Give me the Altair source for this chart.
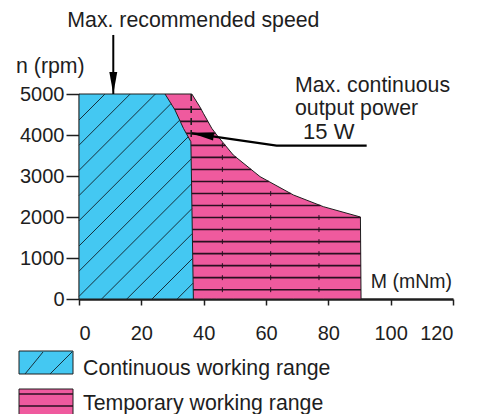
import altair as alt
import pandas as pd
import numpy as np

# ---------------- data ----------------
x_ticks = [0, 20, 40, 60, 80, 100, 120]
y_ticks = [0, 1000, 2000, 3000, 4000, 5000]

# continuous working range: upper/right boundary (M in mNm, n in rpm)
cont_M = [0.0, 27.6, 30.8, 33.5, 35.9, 36.7]
cont_n = [5000, 5000, 4610, 4163, 3837, 0]

# temporary working range: upper/right boundary
temp_M = [27.6, 36.2, 38.8, 39.9, 42.6, 44.2, 49.5, 58.1, 68.8, 78.4, 90.3, 90.5]
temp_n = [5000, 5000, 4683, 4529, 4163, 4000, 3512, 2984, 2537, 2252, 2000, 0]

# max. continuous torque (dashed)
dash_M = [36.0, 36.0]
dash_n = [5000, 3837]

# annotation arrows
arrow1_M = [11.0, 11.0]
arrow1_n = [6440, 5000]
arrow2_M = [92.3, 63.4, 36.2]
arrow2_n = [3739, 3739, 4041]

# annotation texts
ann_text = ["Max. recommended speed", "n (rpm)", "Max. continuous", "output power", "15 W", "M (mNm)"]
ann_M = [36.7, -20.2, 69.3, 69.3, 71.9, 119.7]
ann_n = [6641, 5512, 5056, 4488, 3895, 261]

legend_labels = ["Continuous working range", "Temporary working range"]

# ---------------- layout / style ----------------
W, H = 374, 205
XMAX, YMAX = 120, 5000
PXM, PXN = W / XMAX, H / YMAX
FONT = "Liberation Sans"
BLUE = "#44C8F2"
PINK = "#EF5A9E"
DARK = "#1e1e1e"
FS = 21.3

xs = alt.Scale(domain=[0, XMAX], nice=False, zero=False)
ys = alt.Scale(domain=[0, YMAX], nice=False, zero=False)


def to_px(M, n):
    return M * PXM, (YMAX - n) * PXN


def to_data(x, y):
    return x / PXM, YMAX - y / PXN


# hatch lines for the continuous region (45 deg in pixel space)
poly = [to_px(0, 0)] + [to_px(m, n) for m, n in zip(cont_M, cont_n)]
hatch = []
for k in range(-1, 15):
    c = 26 + 25.2 * k
    pts = []
    for i in range(len(poly)):
        (x1, y1), (x2, y2) = poly[i], poly[(i + 1) % len(poly)]
        f1, f2 = x1 + y1 - c, x2 + y2 - c
        if f1 == f2:
            continue
        t = f1 / (f1 - f2)
        if 0 <= t < 1:
            pts.append((x1 + t * (x2 - x1), y1 + t * (y2 - y1)))
    pts.sort()
    for j in range(0, len(pts) - 1, 2):
        a = to_data(*pts[j])
        b = to_data(*pts[j + 1])
        hatch.append({"M": a[0], "n": a[1], "M2": b[0], "n2": b[1]})
hatch_df = pd.DataFrame(hatch)

# horizontal hatch for temporary region
levels = [227 + 293.3 * k for k in range(16)]
rM = np.interp(levels, temp_n[::-1], temp_M[::-1])
hl_df = pd.DataFrame({"M": [27.0] * len(levels), "M2": rM, "n": levels})
tick_pos = [46.0, 61.5, 77.0]
tk = [{"M": t, "n": lv - 60, "n2": lv + 60} for lv, r in zip(levels, rM) for t in tick_pos if t < r - 0.5]
tk_df = pd.DataFrame(tk)

cont_df = pd.DataFrame({"M": cont_M, "n": cont_n})
temp_df = pd.DataFrame({"M": temp_M, "n": temp_n})

xaxis = alt.Axis(values=x_ticks, tickSize=6, tickWidth=1.5, domainWidth=2.5,
                 labelPadding=18, grid=False, format="d")
yaxis = alt.Axis(values=y_ticks, tickSize=13, tickWidth=1.5, domainWidth=1.5,
                 labelPadding=2, grid=False, format="d")

temp_area = alt.Chart(temp_df).mark_area(color=PINK, stroke=DARK, strokeWidth=1, fillOpacity=1).encode(
    x=alt.X("M:Q", scale=xs, title=None, axis=xaxis),
    y=alt.Y("n:Q", scale=ys, title=None, axis=yaxis, stack=None),
    y2=alt.datum(0))
hlines = alt.Chart(hl_df).mark_rule(color="#2a1020", strokeWidth=1.6).encode(
    x=alt.X("M:Q", scale=xs), x2="M2", y=alt.Y("n:Q", scale=ys))
ticks = alt.Chart(tk_df).mark_rule(color="#2a1020", strokeWidth=1).encode(
    x=alt.X("M:Q", scale=xs), y=alt.Y("n:Q", scale=ys), y2="n2")
cont_area = alt.Chart(cont_df).mark_area(color=BLUE, stroke=DARK, strokeWidth=1, fillOpacity=1).encode(
    x=alt.X("M:Q", scale=xs), y=alt.Y("n:Q", scale=ys, stack=None), y2=alt.datum(0))
hatch_l = alt.Chart(hatch_df).mark_rule(color="#16303c", strokeWidth=1).encode(
    x=alt.X("M:Q", scale=xs), y=alt.Y("n:Q", scale=ys), x2="M2", y2="n2")
dash = alt.Chart(pd.DataFrame({"M": dash_M, "n": dash_n})).mark_line(
    color=DARK, strokeWidth=1.6, strokeDash=[7, 5]).encode(
    x=alt.X("M:Q", scale=xs), y=alt.Y("n:Q", scale=ys))

a1 = pd.DataFrame({"M": arrow1_M, "n": arrow1_n, "o": range(2)})
a2 = pd.DataFrame({"M": arrow2_M, "n": arrow2_n, "o": range(3)})
arr1 = alt.Chart(a1).mark_line(color="black", strokeWidth=2).encode(
    x=alt.X("M:Q", scale=xs), y=alt.Y("n:Q", scale=ys), order="o:Q")
arr2 = alt.Chart(a2).mark_line(color="black", strokeWidth=2.2).encode(
    x=alt.X("M:Q", scale=xs), y=alt.Y("n:Q", scale=ys), order="o:Q")
HEAD = "M0,1 L-0.36,-1 L0.36,-1 Z"
head1 = alt.Chart(a1.iloc[[1]]).mark_point(shape=HEAD, size=484, filled=True, color="black",
                                           opacity=1, strokeWidth=0, yOffset=-11).encode(
    x=alt.X("M:Q", scale=xs), y=alt.Y("n:Q", scale=ys))
head2 = alt.Chart(a2.iloc[[2]]).mark_point(shape=HEAD, size=484, filled=True, color="black",
                                           opacity=1, strokeWidth=0, angle=98.3,
                                           xOffset=10.9, yOffset=1.6).encode(
    x=alt.X("M:Q", scale=xs), y=alt.Y("n:Q", scale=ys))

ann = pd.DataFrame({"t": ann_text, "M": ann_M, "n": ann_n})
def txt(rows, align, size=FS):
    return alt.Chart(ann.iloc[rows]).mark_text(
        align=align, baseline="alphabetic", font=FONT, fontSize=size, color=DARK).encode(
        x=alt.X("M:Q", scale=xs), y=alt.Y("n:Q", scale=ys), text="t:N")
texts = [txt([0], "center"), txt([1, 2, 3], "left"), txt([4], "left", 22), txt([5], "right", 19.5)]

# legend (pixel layout below the plot)
sw = pd.DataFrame({"lab": legend_labels})
lg_blue = alt.Chart(sw.iloc[[0]]).mark_rect(color=BLUE, stroke=DARK, strokeWidth=1).encode(
    x=alt.value(-60), x2=alt.value(-6), y=alt.value(257), y2=alt.value(280))
lg_blue_h = [alt.Chart(sw.iloc[[0]]).mark_rule(color="#16303c", strokeWidth=1).encode(
    x=alt.value(a), y=alt.value(280), x2=alt.value(b), y2=alt.value(258)) for a, b in [(-54, -36), (-29, -7)]]
lg_pink = alt.Chart(sw.iloc[[1]]).mark_rect(color=PINK, stroke=DARK, strokeWidth=1).encode(
    x=alt.value(-60), x2=alt.value(-6), y=alt.value(295), y2=alt.value(324))
lg_pink_h = [alt.Chart(sw.iloc[[1]]).mark_rule(color="#2a1020", strokeWidth=1.6).encode(
    x=alt.value(-60), x2=alt.value(-6), y=alt.value(v)) for v in (300, 312)]
lg_text = [alt.Chart(sw.iloc[[i]]).mark_text(align="left", baseline="alphabetic", font=FONT,
                                              fontSize=FS, color=DARK).encode(
    x=alt.value(4), y=alt.value(yy), text="lab:N") for i, yy in [(0, 281), (1, 316)]]

chart = alt.layer(
    temp_area, hlines, ticks, cont_area, hatch_l, dash, arr1, arr2, head1, head2,
    *texts, lg_blue, *lg_blue_h, lg_pink, *lg_pink_h, *lg_text
).properties(
    width=W, height=H,
    padding={"left": 71, "top": 86, "right": 22, "bottom": 126},
    autosize=alt.AutoSizeParams(type="none"),
).configure_view(strokeWidth=0).configure_axis(
    labelFont=FONT, labelFontSize=20, labelColor=DARK, domainColor=DARK, tickColor=DARK
)

chart.save("out.html", embed_options={"renderer": "svg", "actions": False})
